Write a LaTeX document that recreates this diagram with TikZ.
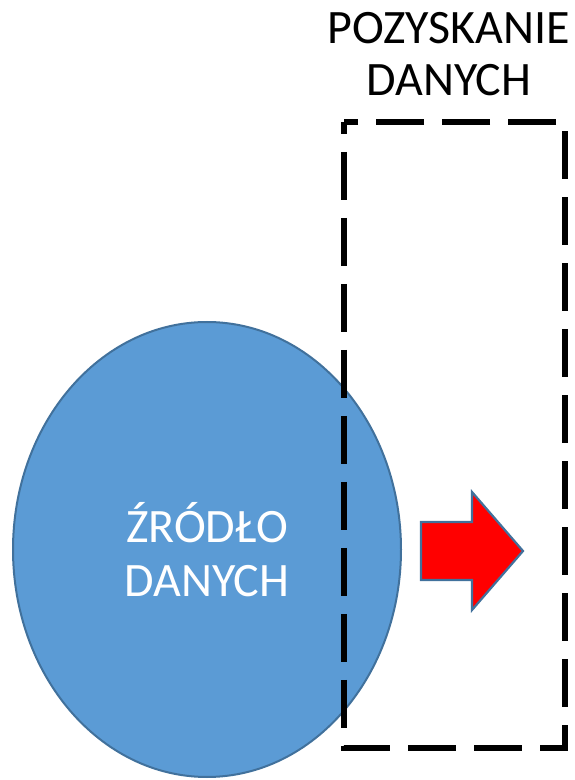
\documentclass[tikz,border=0pt]{standalone}
\usepackage{fontspec}
\setmainfont{Carlito}
\usepackage{xcolor}
\usetikzlibrary{shapes.geometric}

\definecolor{zrodloFill}{HTML}{5B9BD5}
\definecolor{zrodloLine}{HTML}{41719C}

\tikzset{
  zrodlo/.style={ellipse,draw=zrodloLine,fill=zrodloFill,line width=2pt,
    minimum width=388pt,minimum height=455pt,inner sep=0pt,
    text=white,align=center,font=\fontsize{48}{54}\selectfont},
  dashbox/.style={line width=5.5pt,dash pattern=on 48pt off 18pt,dash phase=36pt},
  tytul/.style={inner sep=0pt,align=center,font=\fontsize{48}{52}\selectfont},
  strzalka/.style={draw=zrodloLine,fill=red,line width=2.2pt,line join=miter}
}

\begin{document}
\begin{tikzpicture}[x=1pt,y=1pt]
          \useasboundingbox (0,0) rectangle (574,780);

          %source ellipse
          \node[zrodlo] (zrodlo) at (207,230.5) {ŹRÓDŁO\\DANYCH};

          %arrow
          \draw[strzalka] (421,258) -- (472,258) -- (472,288) -- (523,229)
                -- (472,170) -- (472,200) -- (421,200) -- cycle;

          %dashed box and its title
          \draw[dashbox] (344,658) rectangle (565,32);
          \node[tytul,anchor=north] (pozyskanie) at (449,768) {POZYSKANIE\\DANYCH};
\end{tikzpicture}
\end{document}
